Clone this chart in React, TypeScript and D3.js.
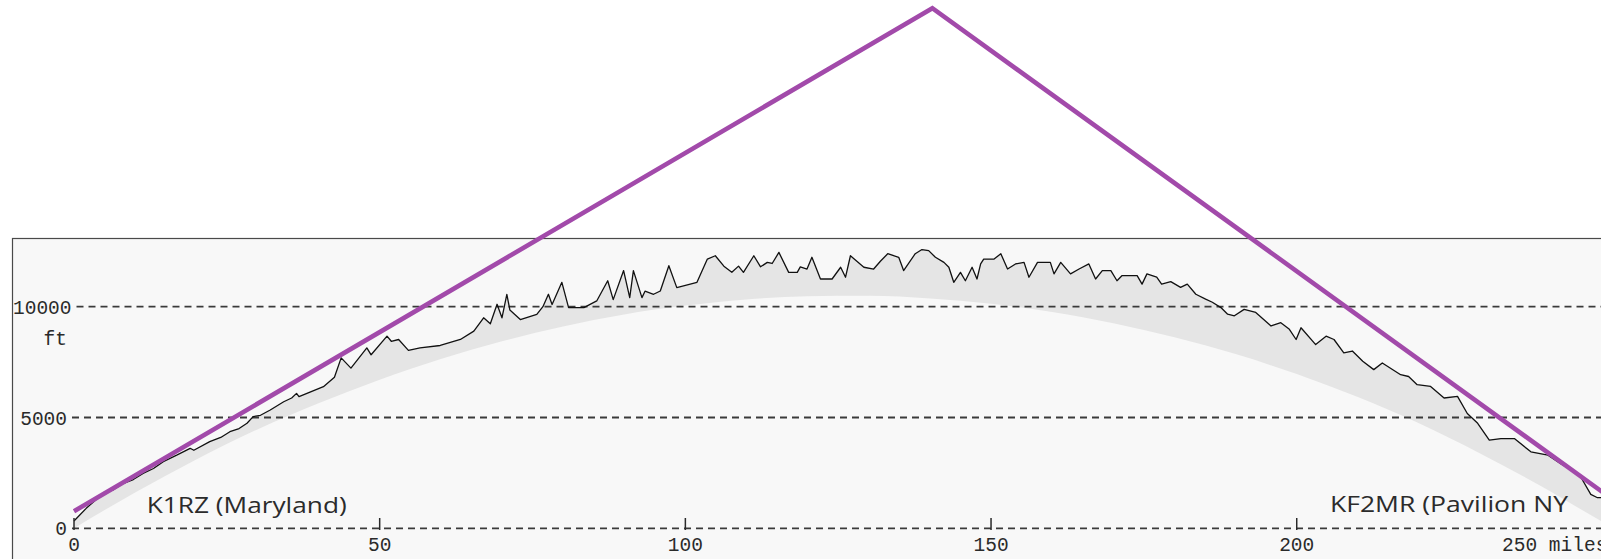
import React from "react";
import * as d3 from "d3";

// ---- data (miles, feet) ----
const terrainMiles = [0, 2, 4.8, 6.5, 8.1, 9.7, 11.3, 13, 14.6, 16.8, 19, 19.6, 22.2, 24, 25.5, 27, 28.3, 29.3, 30.5, 32.1, 34.3, 35.6, 36.4, 36.8, 38.1, 40.8, 42.6, 43.7, 45.3, 47.9, 48.6, 51.2, 51.9, 53.1, 54.7, 56.6, 59.9, 63.2, 65.4, 67, 68.1, 69.2, 70, 70.8, 71.3, 73, 75.7, 76.7, 77.6, 78.2, 79.8, 80.9, 83.4, 85.5, 87.3, 88.2, 89.9, 90.9, 91.5, 92.9, 93.4, 94.8, 95.9, 97.3, 98.6, 101.9, 103.6, 104.9, 106.3, 107.6, 108.7, 109.5, 111.2, 112.3, 113.4, 114.2, 115.3, 116.9, 118.3, 118.8, 119.9, 120.7, 122.1, 124, 125.4, 126.2, 127, 129.2, 130.8, 131.9, 133.1, 134.9, 135.7, 137.6, 138.7, 139.8, 140.9, 142.3, 143.1, 143.9, 145, 145.8, 146.9, 147.7, 148.3, 148.8, 150.5, 151.6, 152.7, 154, 155.4, 156.2, 157.6, 159.7, 160.3, 161.4, 163, 164.4, 166, 167.1, 168.2, 169.6, 170.6, 171.4, 173.9, 174.7, 175.5, 177.1, 177.9, 179.4, 181, 182.1, 183.5, 185.1, 186.2, 187.6, 188.7, 189.8, 191.4, 193.3, 195.8, 197.4, 198.8, 199.9, 200.7, 203.1, 204.8, 206.1, 207.7, 209.1, 210.8, 212.6, 214, 217, 218.3, 219.7, 221.9, 224.1, 226.3, 227.9, 229.6, 231.5, 233.4, 235.6, 238.3, 241.1, 243.3, 246.2, 248.1, 249.2, 250.1, 251];
const terrainFeet = [330, 900, 1580, 1750, 2030, 2200, 2480, 2700, 3010, 3300, 3610, 3520, 3910, 4100, 4360, 4500, 4740, 5040, 5100, 5340, 5710, 5880, 6090, 5940, 6090, 6390, 6820, 7690, 7230, 8140, 7830, 8670, 8440, 8520, 8030, 8140, 8250, 8520, 8900, 9500, 9230, 10110, 9500, 10560, 9850, 9420, 9650, 10000, 10560, 10100, 11100, 9960, 9960, 10260, 11170, 10320, 11630, 10410, 11630, 10410, 10700, 10560, 10710, 11850, 10860, 11100, 12150, 12300, 11830, 11550, 11830, 11550, 12300, 11800, 12000, 11950, 12450, 11550, 11550, 11800, 11700, 12230, 11250, 11250, 11780, 11330, 12300, 11780, 11700, 12050, 12390, 12230, 11630, 12390, 12580, 12530, 12230, 12000, 11780, 11100, 11550, 11170, 11780, 11250, 11930, 12150, 12150, 12390, 11700, 11930, 12000, 11330, 12000, 12000, 11480, 12000, 11480, 11700, 11930, 11250, 11630, 11630, 11170, 11400, 11400, 11020, 11480, 11330, 11020, 11130, 10870, 11020, 10560, 10340, 10200, 9960, 9660, 9590, 9880, 9740, 9130, 9280, 8980, 8520, 9050, 8290, 8670, 8520, 7920, 8000, 7540, 7160, 7460, 6930, 6850, 6480, 6400, 5880, 5950, 5180, 4740, 3980, 4050, 4050, 3450, 3300, 2890, 2440, 1530, 1380, 1380, 1200];

const earthMiles = [0, 10, 20, 30, 40, 50, 60, 70, 80, 90, 100, 110, 120, 130, 140, 150, 160, 170, 180, 190, 200, 210, 220, 230, 240, 250, 252];
const earthFeet = [0, 1620, 3110, 4460, 5640, 6700, 7640, 8440, 9110, 9650, 10050, 10330, 10470, 10490, 10370, 10130, 9760, 9250, 8620, 7860, 6960, 5920, 4740, 3380, 1900, 300, 0];

const pathMiles = [0, 140.4, 252];
const pathFeet = [770, 23470, 1240];

const mileTicks = [0, 50, 100, 150, 200, 250];
const mileTickLabels = ["0", "50", "100", "150", "200", "250 miles"];
const feetTicks = [0, 5000, 10000];
const feetTickLabels = ["0", "5000", "10000"];
const unitLabel = "ft";
const stationA = "K1RZ (Maryland)";
const stationB = "KF2MR (Pavilion NY";

const W = 1601;
const H = 559;

export default function App() {
  const x = d3.scaleLinear().domain([0, 250]).range([74, 1602.4]);
  const y = d3.scaleLinear().domain([0, 10000]).range([528.3, 306.7]);

  const terrain = terrainMiles.map((m, i) => [m, terrainFeet[i]] as [number, number]);
  const earth = earthMiles.map((m, i) => [m, earthFeet[i]] as [number, number]);
  const pathPts = pathMiles.map((m, i) => [m, pathFeet[i]] as [number, number]);

  const terrainArea = d3
    .area<[number, number]>()
    .x((d) => x(d[0]))
    .y0(y(0))
    .y1((d) => y(d[1]));
  const earthArea = d3
    .area<[number, number]>()
    .x((d) => x(d[0]))
    .y0(y(0) + 1)
    .y1((d) => y(d[1]))
    .curve(d3.curveMonotoneX);
  const line = d3
    .line<[number, number]>()
    .x((d) => x(d[0]))
    .y((d) => y(d[1]));

  const mono = "'Liberation Mono', 'Courier New', monospace";
  const fs = 19.5;
  const charW = fs * 0.6;
  const bg = "#f8f8f8";

  return (
    <svg
      width={W}
      height={H}
      style={{ position: "absolute", left: 0, top: 0, background: "#ffffff" }}
    >
      <defs>
        <clipPath id="plotclip">
          <rect x={12} y={238} width={W} height={H} />
        </clipPath>
      </defs>
      <rect x={12.5} y={238.5} width={W + 20} height={H} fill={bg} stroke="#4a4a4a" strokeWidth={1.2} />
      <g clipPath="url(#plotclip)">
        <path d={terrainArea(terrain) || ""} fill="#e5e5e5" />
        <path d={earthArea(earth) || ""} fill={bg} />
      </g>
      {feetTicks.map((t, i) => {
        const lab = feetTickLabels[i];
        const tx = Math.max(67, 13 + lab.length * charW);
        return (
          <g key={"fy" + t}>
            <line
              x1={tx + 5}
              x2={W + 10}
              y1={y(t)}
              y2={y(t)}
              stroke="#3a3a3a"
              strokeWidth={1.8}
              strokeDasharray="7,5"
            />
            <text x={tx} y={y(t) + 7} textAnchor="end" fontFamily={mono} fontSize={fs} fill="#2a2a2a">
              {lab}
            </text>
          </g>
        );
      })}
      <text x={67} y={345} textAnchor="end" fontFamily={mono} fontSize={fs} fill="#2a2a2a">
        {unitLabel}
      </text>
      <path
        d={line(terrain) || ""}
        fill="none"
        stroke="#111"
        strokeWidth={1.3}
        strokeLinejoin="round"
      />
      {mileTicks.map((t, i) => (
        <g key={"mx" + t}>
          <line x1={x(t)} x2={x(t)} y1={518} y2={530} stroke="#2a2a2a" strokeWidth={1.5} />
          <text
            x={i === mileTicks.length - 1 ? x(t) + 5 : x(t)}
            y={551}
            textAnchor={i === mileTicks.length - 1 ? "end" : "middle"}
            fontFamily={mono}
            fontSize={fs}
            fill="#2a2a2a"
          >
            {mileTickLabels[i]}
          </text>
        </g>
      ))}
      <text
        x={146.7}
        y={513.3}
        fontFamily="'Open Sans', 'Noto Sans', sans-serif"
        fontSize={22.5}
        fill="#2b2b2b"
        textLength={200}
        lengthAdjust="spacingAndGlyphs"
      >
        {stationA}
      </text>
      <text
        x={1330}
        y={512}
        fontFamily="'Open Sans', 'Noto Sans', sans-serif"
        fontSize={22.5}
        fill="#2b2b2b"
        textLength={238}
        lengthAdjust="spacingAndGlyphs"
      >
        {stationB}
      </text>
      <path
        d={line(pathPts) || ""}
        fill="none"
        stroke="#a24aaa"
        strokeWidth={4.6}
        strokeLinejoin="miter"
      />
    </svg>
  );
}
